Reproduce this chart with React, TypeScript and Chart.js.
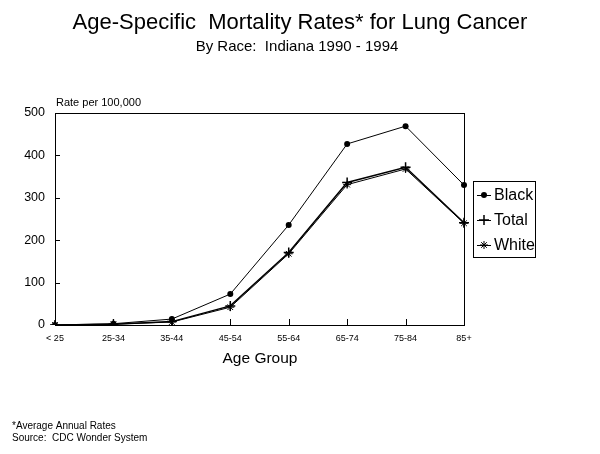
import React, { useEffect, useRef } from "react";
import { Chart, registerables } from "chart.js";

Chart.register(...registerables);

const categories = ["< 25", "25-34", "35-44", "45-54", "55-64", "65-74", "75-84", "85+"];
const blackRates = [0, 3, 14, 73, 236, 427, 469, 330];
const totalRates = [0, 2, 8, 45, 171, 336, 372, 241];
const whiteRates = [0, 2, 7, 42, 168, 331, 368, 240];
const yTicks = [0, 100, 200, 300, 400, 500];

const FONT = "'Liberation Sans', Arial, sans-serif";

function drawMarker(ctx: CanvasRenderingContext2D, style: string, x: number, y: number, r: number) {
  ctx.save();
  ctx.fillStyle = "#000";
  ctx.strokeStyle = "#000";
  ctx.lineWidth = 1;
  ctx.beginPath();
  if (style === "circle") {
    ctx.arc(x, y, r, 0, Math.PI * 2);
    ctx.fill();
  } else if (style === "cross") {
    ctx.lineWidth = 1.5;
    ctx.moveTo(x - r, y);
    ctx.lineTo(x + r, y);
    ctx.moveTo(x, y - r);
    ctx.lineTo(x, y + r);
    ctx.stroke();
  } else {
    ctx.moveTo(x - r, y);
    ctx.lineTo(x + r, y);
    ctx.moveTo(x, y - r);
    ctx.lineTo(x, y + r);
    const d = r * 0.7;
    ctx.moveTo(x - d, y - d);
    ctx.lineTo(x + d, y + d);
    ctx.moveTo(x - d, y + d);
    ctx.lineTo(x + d, y - d);
    ctx.stroke();
  }
  ctx.restore();
}

const decorPlugin = {
  id: "decor",
  afterDraw(chart: any) {
    const ctx = chart.ctx as CanvasRenderingContext2D;
    const a = chart.chartArea;
    ctx.save();
    ctx.strokeStyle = "#000";
    ctx.lineWidth = 1;
    ctx.strokeRect(Math.round(a.left) + 0.5, Math.round(a.top) + 0.5, Math.round(a.right - a.left), Math.round(a.bottom - a.top));
    // inner ticks
    const xs = chart.scales.x;
    const ys = chart.scales.y;
    ctx.beginPath();
    categories.forEach((_, i) => {
      const px = Math.round(xs.getPixelForValue(i)) + 0.5;
      ctx.moveTo(px, a.bottom);
      ctx.lineTo(px, a.bottom - 6);
    });
    yTicks.forEach((v) => {
      const py = Math.round(ys.getPixelForValue(v)) + 0.5;
      ctx.moveTo(a.left, py);
      ctx.lineTo(a.left + 5, py);
    });
    ctx.stroke();

    ctx.fillStyle = "#000";
    ctx.textAlign = "center";
    ctx.textBaseline = "alphabetic";
    ctx.font = `22px ${FONT}`;
    ctx.fillText("Age-Specific  Mortality Rates* for Lung Cancer", 300, 29);
    ctx.font = `15px ${FONT}`;
    ctx.fillText("By Race:  Indiana 1990 - 1994", 297, 51);
    ctx.font = `15.5px ${FONT}`;
    ctx.fillText("Age Group", 260, 363);
    ctx.textAlign = "left";
    ctx.font = `11px ${FONT}`;
    ctx.fillText("Rate per 100,000", 56, 106);
    ctx.font = `10px ${FONT}`;
    ctx.fillText("*Average Annual Rates", 12, 429);
    ctx.fillText("Source:  CDC Wonder System", 12, 441);

    // legend
    const lx = 473, ly = 181, lw = 62, lh = 76;
    ctx.strokeRect(lx + 0.5, ly + 0.5, lw, lh);
    const names = ["Black", "Total", "White"];
    const styles = ["circle", "cross", "star"];
    const radii = [3, 5, 4];
    names.forEach((n, i) => {
      const cy = ly + 14 + i * 25;
      ctx.beginPath();
      ctx.moveTo(lx + 4, cy + 0.5);
      ctx.lineTo(lx + 18, cy + 0.5);
      ctx.stroke();
      drawMarker(ctx, styles[i], lx + 11, cy, radii[i]);
      ctx.font = `16px ${FONT}`;
      ctx.textBaseline = "middle";
      ctx.fillText(n, lx + 21, cy + 1);
    });
    ctx.restore();
  },
};

export default function App() {
  const ref = useRef<HTMLCanvasElement | null>(null);
  useEffect(() => {
    if (!ref.current) return;
    const chart = new Chart(ref.current, {
      type: "line",
      data: {
        labels: categories,
        datasets: [
          {
            label: "Black",
            data: blackRates,
            borderColor: "#000",
            backgroundColor: "#000",
            borderWidth: 1,
            pointStyle: "circle",
            pointRadius: 3,
            pointBorderWidth: 0,
            tension: 0,
          },
          {
            label: "Total",
            data: totalRates,
            borderColor: "#000",
            backgroundColor: "#000",
            borderWidth: 1.5,
            pointStyle: "cross",
            pointRadius: 5,
            pointBorderWidth: 1.5,
            tension: 0,
          },
          {
            label: "White",
            data: whiteRates,
            borderColor: "#000",
            backgroundColor: "#000",
            borderWidth: 1,
            pointStyle: "star",
            pointRadius: 4,
            pointBorderWidth: 1,
            tension: 0,
          },
        ],
      },
      options: {
        animation: false,
        responsive: false,
        devicePixelRatio: 1,
        layout: { padding: { left: 0, right: 136, top: 113, bottom: 0 } },
        plugins: { legend: { display: false }, tooltip: { enabled: false }, title: { display: false } },
        scales: {
          x: {
            type: "category",
            offset: false,
            grid: { display: false, drawTicks: false },
            border: { display: true, color: "#000", width: 1 },
            ticks: { color: "#000", font: { family: FONT, size: 9 }, padding: 8, maxRotation: 0, autoSkip: false },
            afterFit: (s: any) => { s.height = 129; },
          },
          y: {
            min: 0,
            max: 500,
            afterBuildTicks: (s: any) => { s.ticks = yTicks.map((v) => ({ value: v })); },
            grid: { display: false, drawTicks: false },
            border: { display: true, color: "#000", width: 1 },
            ticks: { color: "#000", font: { family: FONT, size: 12.5 }, padding: 10 },
            afterFit: (s: any) => { s.width = 55; },
          },
        },
      },
      plugins: [decorPlugin],
    });
    return () => chart.destroy();
  }, []);
  return (
    <div style={{ position: "absolute", left: 0, top: 0, width: 600, height: 454, background: "#fff" }}>
      <canvas ref={ref} width={600} height={454} style={{ width: 600, height: 454, display: "block" }} />
    </div>
  );
}
